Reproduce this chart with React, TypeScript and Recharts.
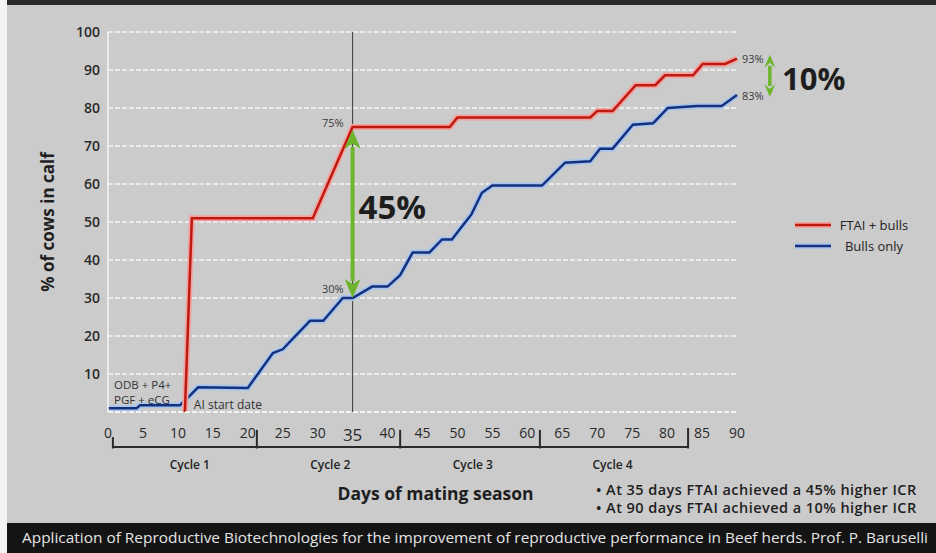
import React from 'react';
import {
  LineChart,
  Line,
  XAxis,
  YAxis,
  CartesianGrid,
  ReferenceLine,
  ReferenceDot,
  Legend
} from 'recharts';

const FONT = '"Open Sans", "DejaVu Sans", sans-serif';

// FTAI + bulls (red) - starts at AI start date
const redDays = [11, 12, 29.3, 35, 48.9, 50, 69, 70, 72.2, 75.5, 78.3, 79.7, 83.7, 85.1, 88.3, 90];
const redValues = [0, 51, 51, 75, 75, 77.5, 77.5, 79.2, 79.2, 86, 86, 88.6, 88.6, 91.6, 91.6, 93];

// Bulls only (blue)
const blueDays = [0, 4.1, 4.6, 10.3, 11, 12.9, 20, 23.6, 25, 28.9, 30.8, 33.6, 35, 37.8, 40, 41.8, 43.6, 46, 47.8, 49.2, 50.5, 52, 53.5, 55, 62.1, 65.4, 69, 70.4, 72.2, 75.1, 78, 80.1, 84.3, 87.8, 90];
const blueValues = [1, 1, 1.8, 1.8, 3, 6.5, 6.3, 15.5, 16.5, 24, 24, 30, 30, 33, 33, 36, 42, 42, 45.4, 45.4, 48.5, 52, 57.7, 59.6, 59.6, 65.6, 66, 69.3, 69.3, 75.6, 76, 80, 80.5, 80.5, 83.4];

const xTicks = [0, 5, 10, 15, 20, 25, 30, 35, 40, 45, 50, 55, 60, 65, 70, 75, 80, 85, 90];
const yTicks = [10, 20, 30, 40, 50, 60, 70, 80, 90, 100];

const cycleBounds = [0.7, 21.3, 41.8, 61.8, 83];
const cycleNames = ['Cycle 1', 'Cycle 2', 'Cycle 3', 'Cycle 4'];
const cycleCenters = [11.7, 31.8, 52.2, 72.2];

const seriesNames = ['FTAI + bulls', 'Bulls only'];
const seriesColors = ['#bd1a12', '#16307e'];
const haloColors = ['#f2a29e', '#a8c6ec'];

const bullets = [
  '• At 35 days FTAI achieved a 45% higher ICR',
  '• At 90 days FTAI achieved a 10% higher ICR'
];
const footer =
  'Application of Reproductive Biotechnologies for the improvement of reproductive performance in Beef herds. Prof. P. Baruselli';

const redData = redDays.map((d, i) => ({ d, v: redValues[i] }));
const blueData = blueDays.map((d, i) => ({ d, v: blueValues[i] }));

const GREEN = '#6cb52d';

const GreenArrow = (props: any) => {
  const { x1, y1, y2, head = 18, hw = 8, w = 4 } = props;
  const top = Math.min(y1, y2);
  const bot = Math.max(y1, y2);
  return (
    <g>
      <line x1={x1} y1={top + head - 2} x2={x1} y2={bot - head + 2} stroke={GREEN} strokeWidth={w} />
      <polygon points={`${x1},${top} ${x1 - hw},${top + head} ${x1},${top + head - 5} ${x1 + hw},${top + head}`} fill={GREEN} />
      <polygon points={`${x1},${bot} ${x1 - hw},${bot - head} ${x1},${bot - head + 5} ${x1 + hw},${bot - head}`} fill={GREEN} />
    </g>
  );
};

function note(text: string, dx: number, dy: number, size: number, anchor: string, weight = 400, color = '#333') {
  return (p: any) => {
    const vb = p.viewBox || {};
    return (
      <text
        x={vb.x + dx}
        y={vb.y + dy}
        textAnchor={anchor}
        dominantBaseline="central"
        fontFamily={FONT}
        fontSize={size}
        fontWeight={weight}
        fill={color}
      >
        {text}
      </text>
    );
  };
}

const XTick = (p: any) => {
  const { x, y, payload } = p;
  const big = payload.value === 35;
  return (
    <text
      x={x}
      y={y + (big ? 22 : 20)}
      textAnchor="middle"
      dominantBaseline="central"
      fontFamily={FONT}
      fontSize={big ? 17 : 14}
      fontWeight={500}
      fill="#2a2a2a"
    >
      {payload.value}
    </text>
  );
};

const LegendBox = () => (
  <div style={{ fontFamily: FONT }}>
    {seriesNames.map((n, i) => (
      <div key={n} style={{ display: 'flex', alignItems: 'center', height: 21 }}>
        <svg width={36} height={8}>
          <line x1={0} y1={4} x2={36} y2={4} stroke={haloColors[i]} strokeWidth={6} />
          <line x1={0} y1={4} x2={36} y2={4} stroke={seriesColors[i]} strokeWidth={2.5} />
        </svg>
        <span style={{ width: 86, textAlign: 'center', fontSize: 13, color: '#222' }}>{n}</span>
      </div>
    ))}
  </div>
);

export default function App() {
  return (
    <div style={{ position: 'absolute', left: 0, top: 0, width: 936, height: 553, background: '#f4f4f4', overflow: 'hidden' }}>
      <div style={{ position: 'absolute', left: 7, top: 0, width: 929, height: 553, background: '#cbcbcb' }} />
      <div style={{ position: 'absolute', left: 7, top: 0, width: 929, height: 5, background: '#2b2b2b' }} />
      <div style={{ position: 'absolute', left: 0, top: 0, width: 936, height: 553 }}>
        <LineChart width={936} height={553} margin={{ top: 32, right: 199, bottom: 23, left: 48 }}>
          <CartesianGrid vertical={false} stroke="#f6f6f6" strokeDasharray="5 2" strokeWidth={1.5} />
          <XAxis
            dataKey="d"
            type="number"
            domain={[0, 90]}
            ticks={xTicks}
            height={118}
            axisLine={{ stroke: '#f6f6f6', strokeWidth: 1.5, strokeDasharray: '5 2' }}
            tickLine={false}
            tickSize={0}
            tickMargin={0}
            tick={<XTick />}
            allowDuplicatedCategory={false}
            label={(p: any) => {
              const vb = p.viewBox || {};
              return (
                <text
                  x={vb.x + vb.width / 2 + 13}
                  y={vb.y + 81}
                  textAnchor="middle"
                  dominantBaseline="central"
                  fontFamily={FONT}
                  fontSize={17.5}
                  fontWeight={700}
                  fill="#1e1e1e"
                >
                  Days of mating season
                </text>
              );
            }}
          />
          <YAxis
            type="number"
            domain={[0, 100]}
            ticks={yTicks}
            width={60}
            axisLine={{ stroke: '#f6f6f6', strokeWidth: 1.5 }}
            tickLine={false}
            tickSize={0}
            tickMargin={8}
            tick={{ fill: '#2a2a2a', fontSize: 14, fontWeight: 600, fontFamily: FONT }}
            label={(p: any) => {
              const vb = p.viewBox || {};
              const cx = vb.x - 1;
              const cy = vb.y + vb.height / 2;
              return (
                <text
                  x={cx}
                  y={cy}
                  transform={`rotate(-90 ${cx} ${cy})`}
                  textAnchor="middle"
                  dominantBaseline="central"
                  fontFamily={FONT}
                  fontSize={17}
                  fontWeight={700}
                  fill="#1e1e1e"
                >
                  % of cows in calf
                </text>
              );
            }}
          />
          <ReferenceLine x={35} stroke="#3a3a3a" strokeWidth={1} />

          <Line data={blueData} dataKey="v" type="linear" stroke={haloColors[1]} strokeWidth={6} dot={false} activeDot={false} legendType="none" isAnimationActive={false} />
          <Line data={blueData} dataKey="v" name={seriesNames[1]} type="linear" stroke={seriesColors[1]} strokeWidth={2.5} dot={false} activeDot={false} isAnimationActive={false} />
          <Line data={redData} dataKey="v" type="linear" stroke={haloColors[0]} strokeWidth={6} dot={false} activeDot={false} legendType="none" isAnimationActive={false} />
          <Line data={redData} dataKey="v" name={seriesNames[0]} type="linear" stroke={seriesColors[0]} strokeWidth={2.5} dot={false} activeDot={false} isAnimationActive={false} />

          <ReferenceLine
            segment={[{ x: 35, y: 30 }, { x: 35, y: 74.3 }]}
            ifOverflow="visible"
            shape={(p: any) => <GreenArrow {...p} head={19} hw={8} w={4} />}
          />
          <ReferenceLine
            segment={[{ x: 94.7, y: 82.9 }, { x: 94.7, y: 94 }]}
            ifOverflow="visible"
            shape={(p: any) => <GreenArrow {...p} head={13} hw={5.5} w={3.5} />}
          />

          {/* cycle brackets */}
          <ReferenceLine
            segment={[{ x: cycleBounds[0], y: -9.2 }, { x: cycleBounds[cycleBounds.length - 1], y: -9.2 }]}
            ifOverflow="visible"
            stroke="#2a2a2a"
            strokeWidth={2}
          />
          {cycleBounds.map((b, i) => (
            <ReferenceLine
              key={'cb' + i}
              segment={[{ x: b, y: -9.6 }, { x: b, y: i === 0 ? -6.6 : i === cycleBounds.length - 1 ? -4.2 : -4.7 }]}
              ifOverflow="visible"
              stroke="#2a2a2a"
              strokeWidth={2}
            />
          ))}
          {cycleNames.map((n, i) => (
            <ReferenceDot key={n} x={cycleCenters[i]} y={-13.7} r={0} fill="none" stroke="none" ifOverflow="visible" label={note(n, 0, 0, 12, 'middle', 600, '#222')} />
          ))}

          {/* annotations */}
          <ReferenceDot x={35} y={75} r={0} fill="none" stroke="none" ifOverflow="visible" label={note('75%', -9, -5, 11, 'end', 400, '#3a3a3a')} />
          <ReferenceDot x={35} y={30} r={0} fill="none" stroke="none" ifOverflow="visible" label={note('30%', -9, -10, 11, 'end', 400, '#3a3a3a')} />
          <ReferenceDot x={35} y={54} r={0} fill="none" stroke="none" ifOverflow="visible" label={note('45%', 6, 0, 33, 'start', 700, '#1e1e1e')} />
          <ReferenceDot x={90} y={93} r={0} fill="none" stroke="none" ifOverflow="visible" label={note('93%', 5, 0, 11, 'start', 400, '#3a3a3a')} />
          <ReferenceDot x={90} y={83.4} r={0} fill="none" stroke="none" ifOverflow="visible" label={note('83%', 5, 0, 11, 'start', 400, '#3a3a3a')} />
          <ReferenceDot x={90} y={88.5} r={0} fill="none" stroke="none" ifOverflow="visible" label={note('10%', 45, 2, 31, 'start', 700, '#1e1e1e')} />
          <ReferenceDot x={0} y={7.3} r={0} fill="none" stroke="none" ifOverflow="visible" label={note('ODB + P4+', 6, 0, 11.5, 'start', 400, '#333')} />
          <ReferenceDot x={0} y={3.4} r={0} fill="none" stroke="none" ifOverflow="visible" label={note('PGF + eCG', 6, 0, 11.5, 'start', 400, '#333')} />
          <ReferenceDot x={12} y={2} r={0} fill="none" stroke="none" ifOverflow="visible" label={note('AI start date', 2, 0, 12, 'start', 400, '#333')} />

          <Legend
            layout="vertical"
            align="center"
            verticalAlign="middle"
            content={<LegendBox />}
            wrapperStyle={{ left: 795, top: 214, width: 130 }}
          />
        </LineChart>
      </div>
      {bullets.map((b, i) => (
        <div
          key={b}
          style={{
            position: 'absolute',
            left: 596,
            top: 481 + i * 18,
            fontFamily: FONT,
            fontSize: 14.5,
            fontWeight: 600,
            letterSpacing: 0.45,
            lineHeight: '18px',
            color: '#1e1e1e',
            whiteSpace: 'nowrap'
          }}
        >
          {b}
        </div>
      ))}
      <svg style={{ position: 'absolute', left: 7, top: 523 }} width={929} height={30}>
        <rect x={0} y={0} width={929} height={30} fill="#141414" />
        <text x={15} y={20} textLength={906} lengthAdjust="spacingAndGlyphs" fontFamily={FONT} fontSize={14.5} fill="#e4e4e4">
          {footer}
        </text>
      </svg>
    </div>
  );
}
